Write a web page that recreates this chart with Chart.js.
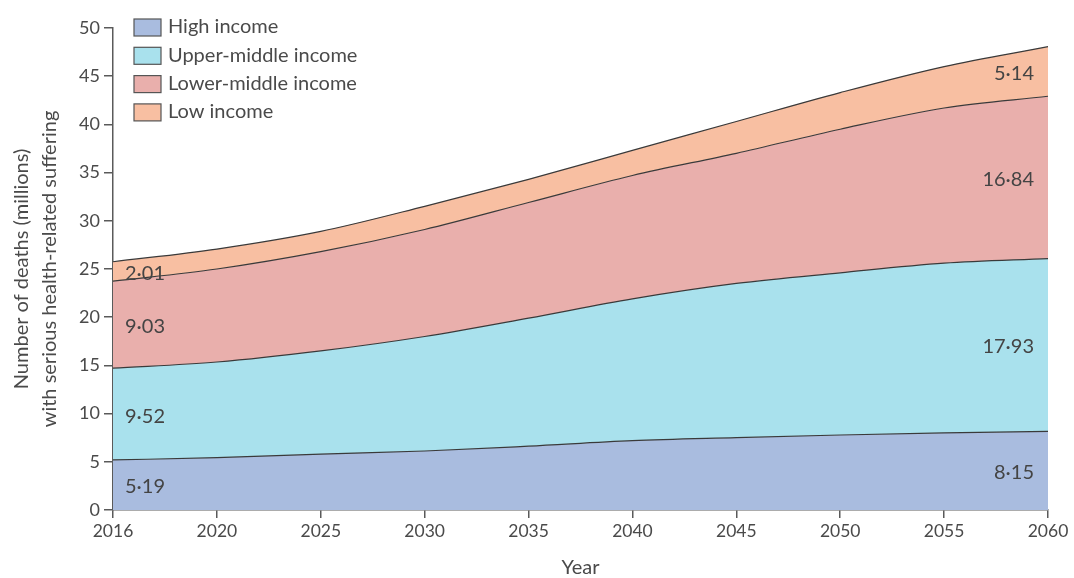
<!DOCTYPE html>
<html>
<head>
<meta charset="utf-8">
<style>
  html, body { margin: 0; padding: 0; background: #fff; }
  #wrap { width: 1074px; height: 578px; }
</style>
<script src="https://cdn.jsdelivr.net/npm/chart.js@4.4.1/dist/chart.umd.min.js"></script>
</head>
<body>
<div id="wrap"><canvas id="sufferingChart" width="1074" height="578"></canvas></div>
<script>
const years = ['2016', '2020', '2025', '2030', '2035', '2040', '2045', '2050', '2055', '2060'];

// deaths in millions, per income group (stacked bottom -> top)
const highIncome        = [5.19, 5.43, 5.80, 6.12, 6.62, 7.19, 7.50, 7.78, 8.00, 8.15];
const upperMiddleIncome = [9.52, 9.92, 10.70, 11.88, 13.28, 14.71, 16.00, 16.82, 17.60, 17.93];
const lowerMiddleIncome = [9.03, 9.65, 10.30, 11.10, 12.00, 12.80, 13.50, 14.90, 16.10, 16.84];
const lowIncome         = [2.01, 2.07, 2.10, 2.40, 2.40, 2.60, 3.30, 3.80, 4.30, 5.14];

const yTicks = [0, 5, 10, 15, 20, 25, 30, 35, 40, 45, 50];

const textColor = '#4a4a4a';
const axisColor = '#5a5a5a';
const fontFamily = 'Lato, "Noto Sans", sans-serif';

const fmt = v => v.toFixed(2).replace('.', '·');

// labels at both ends of each band
const bandLabels = {
  id: 'bandLabels',
  afterDatasetsDraw(chart) {
    const ctx = chart.ctx;
    const yScale = chart.scales.y;
    ctx.save();
    ctx.font = '20px ' + fontFamily;
    ctx.fillStyle = '#444';
    ctx.textBaseline = 'middle';
    chart.data.datasets.forEach((ds, i) => {
      const meta = chart.getDatasetMeta(i);
      const prev = i > 0 ? chart.getDatasetMeta(i - 1) : null;
      const n = meta.data.length;
      const first = meta.data[0];
      const last = meta.data[n - 1];
      const firstBottom = prev ? prev.data[0].y : yScale.getPixelForValue(0);
      const lastBottom = prev ? prev.data[n - 1].y : yScale.getPixelForValue(0);
      ctx.textAlign = 'left';
      ctx.fillText(fmt(ds.data[0]), first.x + 12, (first.y + firstBottom) / 2 + 2);
      ctx.textAlign = 'right';
      ctx.fillText(fmt(ds.data[n - 1]), last.x - 14, (last.y + lastBottom) / 2 + 2);
    });
    ctx.restore();
  }
};

// vertical legend inside the plot, top left
const insideLegend = {
  id: 'insideLegend',
  afterDraw(chart) {
    const ctx = chart.ctx;
    const x0 = chart.chartArea.left + 21;
    const y0 = 27;
    const step = 28.3;
    ctx.save();
    ctx.font = '20px ' + fontFamily;
    ctx.textBaseline = 'middle';
    ctx.textAlign = 'left';
    chart.data.datasets.forEach((ds, i) => {
      const cy = y0 + i * step;
      ctx.fillStyle = ds.backgroundColor;
      ctx.fillRect(x0, cy - 8, 27, 17);
      ctx.strokeStyle = '#555';
      ctx.lineWidth = 1.2;
      ctx.strokeRect(x0, cy - 8, 27, 17);
      ctx.fillStyle = textColor;
      ctx.fillText(ds.label, x0 + 34, cy);
    });
    ctx.restore();
  }
};

const makeSet = (label, data, color, fill) => ({
  label: label,
  data: data,
  backgroundColor: color,
  borderColor: '#3a3a3a',
  borderWidth: 1.2,
  pointRadius: 0,
  fill: fill,
  cubicInterpolationMode: 'monotone'
});

new Chart(document.getElementById('sufferingChart'), {
  type: 'line',
  data: {
    labels: years,
    datasets: [
      makeSet('High income', highIncome, '#a9bcdf', 'origin'),
      makeSet('Upper-middle income', upperMiddleIncome, '#a9e1ed', '-1'),
      makeSet('Lower-middle income', lowerMiddleIncome, '#e9afac', '-1'),
      makeSet('Low income', lowIncome, '#f8bfa2', '-1')
    ]
  },
  options: {
    responsive: false,
    animation: false,
    layout: { padding: { top: 28, right: 26, left: 0, bottom: 0 } },
    plugins: {
      legend: { display: false },
      tooltip: { enabled: false }
    },
    scales: {
      x: {
        offset: false,
        grid: { drawOnChartArea: false, drawTicks: true, tickLength: 8, color: axisColor, lineWidth: 1.5 },
        border: { color: axisColor, width: 1.5 },
        ticks: { color: textColor, font: { family: fontFamily, size: 17.5 }, padding: 3, maxRotation: 0, autoSkip: false },
        title: { display: true, text: 'Year', color: textColor, font: { family: fontFamily, size: 20, lineHeight: 1 }, padding: { top: 4, bottom: 0 } },
        afterFit: s => { s.height = 68; }
      },
      y: {
        stacked: true,
        min: 0,
        max: 50,
        afterBuildTicks: s => { s.ticks = yTicks.map(v => ({ value: v })); },
        grid: { drawOnChartArea: false, drawTicks: true, tickLength: 9, color: axisColor, lineWidth: 1.5 },
        border: { color: axisColor, width: 1.5 },
        ticks: { color: textColor, font: { family: fontFamily, size: 18 }, padding: 4 },
        title: {
          display: true,
          text: ['Number of deaths (millions)', 'with serious health-related suffering'],
          color: textColor,
          font: { family: fontFamily, size: 20, lineHeight: 1.4 },
          padding: { top: 8, bottom: 4 }
        },
        afterFit: s => { s.width = 113; }
      }
    }
  },
  plugins: [bandLabels, insideLegend]
});
</script>
</body>
</html>
